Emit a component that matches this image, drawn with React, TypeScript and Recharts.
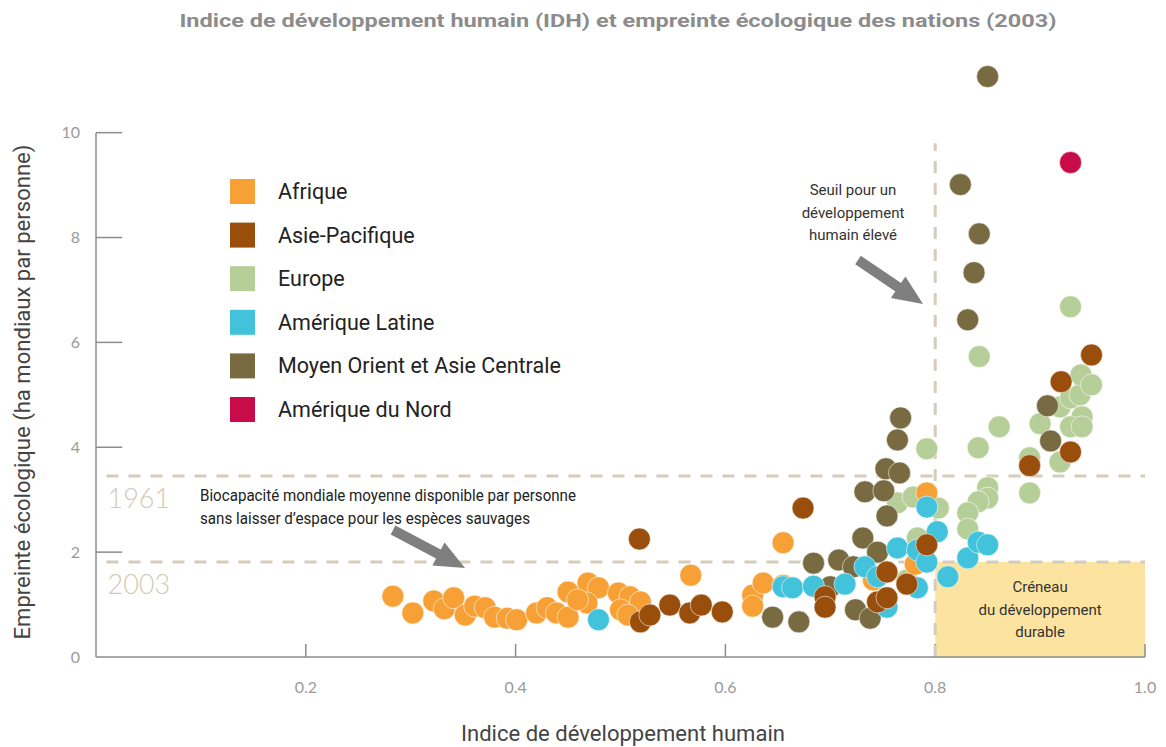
import React from "react";
import {
  ScatterChart, Scatter, XAxis, YAxis, ReferenceLine, ReferenceArea, Legend,
} from "recharts";

// IDH (x) / empreinte écologique en ha par personne (y)
const afrique: [number, number][] = [
  [0.283, 1.16], [0.302, 0.84], [0.322, 1.07], [0.332, 0.92], [0.341, 1.13],
  [0.352, 0.8], [0.361, 0.97], [0.371, 0.94], [0.38, 0.76], [0.392, 0.74],
  [0.401, 0.71], [0.42, 0.84], [0.43, 0.94], [0.439, 0.84], [0.45, 0.76],
  [0.45, 1.24], [0.469, 1.41], [0.479, 1.32], [0.468, 1.03], [0.459, 1.09],
  [0.498, 1.22], [0.509, 1.15], [0.519, 1.05], [0.5, 0.9], [0.507, 0.8],
  [0.567, 1.56], [0.626, 1.18], [0.626, 0.97], [0.636, 1.41], [0.655, 2.18],
  [0.655, 1.37], [0.741, 1.47], [0.781, 1.77], [0.792, 3.13],
];
const asiePacifique: [number, number][] = [
  [0.518, 2.25], [0.519, 0.67], [0.528, 0.8], [0.547, 0.99], [0.566, 0.84],
  [0.577, 0.99], [0.597, 0.86], [0.674, 2.84], [0.695, 1.15], [0.695, 0.95],
  [0.745, 1.05], [0.754, 1.13], [0.754, 1.62], [0.773, 1.39], [0.792, 2.14],
  [0.89, 3.65], [0.929, 3.91], [0.92, 5.25], [0.949, 5.76],
];
const europe: [number, number][] = [
  [0.764, 2.94], [0.779, 3.05], [0.783, 2.27], [0.773, 1.47], [0.792, 3.97],
  [0.803, 2.84], [0.841, 3.99], [0.842, 5.73], [0.929, 6.68], [0.85, 3.23],
  [0.85, 3.03], [0.841, 2.96], [0.831, 2.75], [0.831, 2.44], [0.861, 4.39],
  [0.89, 3.8], [0.89, 3.13], [0.9, 4.45], [0.919, 3.72], [0.919, 4.77],
  [0.929, 4.94], [0.938, 5.0], [0.939, 5.38], [0.949, 5.19], [0.94, 4.58],
  [0.929, 4.39], [0.94, 4.39],
];
const ameriqueLatine: [number, number][] = [
  [0.479, 0.71], [0.655, 1.34], [0.664, 1.32], [0.684, 1.35], [0.714, 1.39],
  [0.733, 1.72], [0.745, 1.53], [0.754, 0.95], [0.764, 2.08], [0.783, 2.04],
  [0.783, 1.32], [0.792, 1.81], [0.792, 2.86], [0.802, 2.39], [0.812, 1.53],
  [0.831, 1.89], [0.841, 2.19], [0.85, 2.14],
];
const moyenOrient: [number, number][] = [
  [0.645, 0.76], [0.67, 0.67], [0.684, 1.79], [0.7, 1.34], [0.708, 1.85],
  [0.722, 1.72], [0.724, 0.9], [0.738, 0.74], [0.731, 2.27], [0.745, 2.0],
  [0.733, 3.15], [0.751, 3.17], [0.754, 2.69], [0.753, 3.59], [0.766, 3.51],
  [0.764, 4.14], [0.767, 4.56], [0.824, 9.01], [0.842, 8.07], [0.837, 7.33],
  [0.831, 6.43], [0.85, 11.07], [0.907, 4.79], [0.91, 4.12],
];
const ameriqueDuNord: [number, number][] = [[0.929, 9.43]];

const regions = [
  "Afrique", "Asie-Pacifique", "Europe", "Amérique Latine",
  "Moyen Orient et Asie Centrale", "Amérique du Nord",
];
const regionColors = ["#f7a035", "#9a4e0b", "#b6cf98", "#42c3db", "#786a41", "#c80c4a"];

const xTicks = [0.2, 0.4, 0.6, 0.8, 1.0];
const yTicks = [0, 2, 4, 6, 8, 10];
const biocapacite1961 = 3.45;
const biocapacite2003 = 1.81;
const seuilIdh = 0.8;

const FONT = "Roboto, 'Noto Sans', sans-serif";
const LIGHT = "Lato, 'Open Sans', sans-serif";
const DASH = "#d5cdbc";
const AXIS = "#8c8c8c";

const toPoints = (pts: [number, number][]) => pts.map(([idh, ef]) => ({ idh, ef }));

const dot = (color: string) => (p: any) => (
  <circle cx={p.cx} cy={p.cy} r={11} fill={color} stroke="#fff" strokeWidth={0.7} strokeOpacity={0.8} />
);

function Arrow({ from, to }: { from: [number, number]; to: [number, number] }) {
  const dx = to[0] - from[0];
  const dy = to[1] - from[1];
  const len = Math.hypot(dx, dy);
  const ux = dx / len, uy = dy / len;
  const bx = to[0] - 30 * ux, by = to[1] - 30 * uy;
  const hw = 13;
  return (
    <g fill="#7f7f7f" stroke="none">
      <line x1={from[0]} y1={from[1]} x2={bx + ux} y2={by + uy} stroke="#7f7f7f" strokeWidth={10} />
      <polygon points={`${to[0]},${to[1]} ${bx - hw * uy},${by + hw * ux} ${bx + hw * uy},${by - hw * ux}`} />
    </g>
  );
}

function LegendBox() {
  return (
    <svg width={380} height={250}>
      {regions.map((r, i) => (
        <g key={r} transform={`translate(0, ${i * 43.6})`}>
          <rect x={2} y={3} width={25} height={25} fill={regionColors[i]} />
          <text x={50} y={23} fontFamily={FONT} fontSize={21.5} fill="#222">{r}</text>
        </g>
      ))}
    </svg>
  );
}

function CreneauLabel({ viewBox }: any) {
  const cx = viewBox.x + viewBox.width / 2;
  const y = viewBox.y;
  return (
    <g fontFamily={FONT} fontSize={15} fill="#333" textAnchor="middle">
      <text x={cx} y={y + 30}>Créneau</text>
      <text x={cx} y={y + 53}>du développement</text>
      <text x={cx} y={y + 75}>durable</text>
    </g>
  );
}

const yearLabel = (txt: string) => (p: any) => (
  <text x={p.viewBox.x + 1} y={p.viewBox.y + 32} fontFamily={LIGHT} fontWeight={300} fontSize={27} fill="#d3cab6">
    {txt}
  </text>
);

export default function App() {
  return (
    <div style={{ position: "absolute", left: 0, top: 0, width: 1166, height: 747, background: "#fff" }}>
      <ScatterChart width={1166} height={747} margin={{ top: 54, right: 21, bottom: 60, left: 0 }}>
        <XAxis
          type="number"
          dataKey="idh"
          domain={[0, 1]}
          ticks={xTicks}
          tickFormatter={(v) => Number(v).toFixed(1)}
          tickLine={false}
          tickSize={0}
          tickMargin={25}
          height={30}
          stroke={AXIS}
          strokeWidth={1.5}
          tick={{ fill: "#9a9a9a", fontSize: 16, fontFamily: LIGHT }}
        />
        <YAxis
          type="number"
          dataKey="ef"
          domain={[0, 11.5]}
          ticks={yTicks}
          axisLine={false}
          tickLine={false}
          tickSize={0}
          tickMargin={16}
          width={96}
          tick={{ fill: "#9a9a9a", fontSize: 16, fontFamily: LIGHT }}
        />
        <ReferenceArea x1={seuilIdh} x2={1} y1={0} y2={biocapacite2003} fill="#fde3a0" fillOpacity={1} stroke="none"
          label={(p: any) => <CreneauLabel viewBox={p.viewBox} />} />
        <ReferenceLine segment={[{ x: 0, y: 0 }, { x: 0, y: 10 }]} stroke={AXIS} strokeWidth={1.5} />
        {yTicks.slice(1).map((v) => (
          <ReferenceLine key={"yt" + v} segment={[{ x: 0, y: v }, { x: 0.025, y: v }]} stroke={AXIS} strokeWidth={1.5} />
        ))}
        {xTicks.map((v) => (
          <ReferenceLine key={"xt" + v} segment={[{ x: v, y: 0 }, { x: v, y: 0.25 }]} stroke={AXIS} strokeWidth={1.5} />
        ))}
        <ReferenceLine segment={[{ x: 0.01, y: biocapacite1961 }, { x: 1, y: biocapacite1961 }]}
          stroke={DASH} strokeWidth={3} strokeDasharray="12 10" label={yearLabel("1961")} />
        <ReferenceLine segment={[{ x: 0.01, y: biocapacite2003 }, { x: 1, y: biocapacite2003 }]}
          stroke={DASH} strokeWidth={3} strokeDasharray="12 10" label={yearLabel("2003")} />
        <ReferenceLine segment={[{ x: seuilIdh, y: 0 }, { x: seuilIdh, y: 9.8 }]}
          stroke={DASH} strokeWidth={3} strokeDasharray="12 10" />
        <Scatter name={regions[2]} data={toPoints(europe)} shape={dot(regionColors[2])} isAnimationActive={false} />
        <Scatter name={regions[0]} data={toPoints(afrique)} shape={dot(regionColors[0])} isAnimationActive={false} />
        <Scatter name={regions[4]} data={toPoints(moyenOrient)} shape={dot(regionColors[4])} isAnimationActive={false} />
        <Scatter name={regions[3]} data={toPoints(ameriqueLatine)} shape={dot(regionColors[3])} isAnimationActive={false} />
        <Scatter name={regions[1]} data={toPoints(asiePacifique)} shape={dot(regionColors[1])} isAnimationActive={false} />
        <Scatter name={regions[5]} data={toPoints(ameriqueDuNord)} shape={dot(regionColors[5])} isAnimationActive={false} />
        <Legend
          layout="vertical"
          align="center"
          verticalAlign="middle"
          content={() => <LegendBox />}
          wrapperStyle={{ left: 228, top: 176, width: 380, height: 250 }}
        />
      </ScatterChart>
      <svg width={1166} height={747} style={{ position: "absolute", left: 0, top: 0, pointerEvents: "none" }}>
        <text x={618} y={27} textAnchor="middle" fontFamily={FONT} fontWeight="bold" fontSize={19} fill="#8c8c8c"
          textLength={877} lengthAdjust="spacingAndGlyphs">
          Indice de développement humain (IDH) et empreinte écologique des nations (2003)
        </text>
        <text x={623} y={741} textAnchor="middle" fontFamily={FONT} fontSize={22} fill="#444"
          textLength={324} lengthAdjust="spacingAndGlyphs">
          Indice de développement humain
        </text>
        <text transform="translate(30, 392) rotate(-90)" textAnchor="middle" fontFamily={FONT} fontSize={22} fill="#444"
          textLength={495} lengthAdjust="spacingAndGlyphs">
          Empreinte écologique (ha mondiaux par personne)
        </text>
        <g fontFamily={FONT} fontSize={15} fill="#333" textAnchor="middle">
          <text x={853} y={195}>Seuil pour un</text>
          <text x={853} y={218}>développement</text>
          <text x={853} y={240}>humain élevé</text>
        </g>
        <g fontFamily={FONT} fontSize={16.5} fill="#222">
          <text x={200} y={501} textLength={376} lengthAdjust="spacingAndGlyphs">
            Biocapacité mondiale moyenne disponible par personne
          </text>
          <text x={200} y={524} textLength={330} lengthAdjust="spacingAndGlyphs">
            sans laisser d’espace pour les espèces sauvages
          </text>
        </g>
        <Arrow from={[858, 260]} to={[923, 304]} />
        <Arrow from={[393, 530]} to={[465, 568]} />
      </svg>
    </div>
  );
}
